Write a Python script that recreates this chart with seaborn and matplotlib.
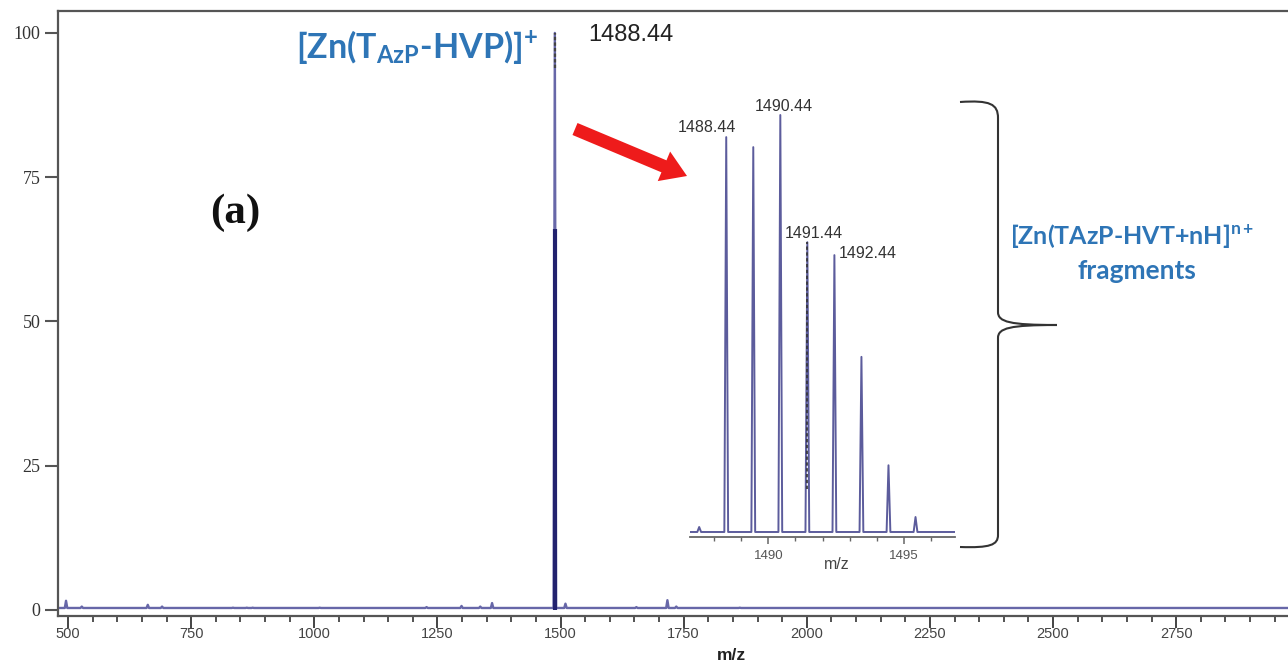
import numpy as np
import pandas as pd
import matplotlib
matplotlib.use("Agg")
import matplotlib.pyplot as plt
import seaborn as sns
from matplotlib.path import Path
from matplotlib.patches import PathPatch, FancyArrow
from matplotlib.transforms import IdentityTransform
from matplotlib.ticker import MultipleLocator, FixedLocator

# ---- full-scan spectrum: centroid m/z and relative intensity (%) ----
scan_mz = [496, 528, 662, 691, 835, 863, 875, 1011, 1228, 1299, 1337, 1361,
           1488.44, 1510, 1654, 1717, 1735, 1864, 1945]
scan_int = [1.6, 0.6, 0.9, 0.6, 0.4, 0.4, 0.4, 0.4, 0.5, 0.7, 0.6, 1.2,
            100.0, 1.1, 0.5, 1.7, 0.6, 0.4, 0.3]
scan_baseline = 0.35

# ---- isotope cluster of the molecular ion (zoomed view) ----
iso_mz = [1487.44, 1488.44, 1489.44, 1490.44, 1491.44, 1492.44, 1493.44, 1494.44, 1495.44]
iso_int = [1.2, 94.7, 92.3, 100.0, 69.5, 66.4, 42.0, 16.0, 3.6]
iso_labels = ["1488.44", "1490.44", "1491.44", "1492.44"]

x_ticks = [500, 750, 1000, 1250, 1500, 1750, 2000, 2250, 2500, 2750]
y_ticks = [0, 25, 50, 75, 100]
inset_ticks = [1490, 1495]

BLUE = "#2e75b6"
TRACE = "#6767a8"
NAVY = "#22226e"

sns.set_style("white")
plt.rcParams["font.family"] = ["Liberation Sans", "DejaVu Sans"]
plt.rcParams["mathtext.fontset"] = "custom"
plt.rcParams["mathtext.bf"] = "Lato:bold"
plt.rcParams["mathtext.rm"] = "Lato:bold"
plt.rcParams["mathtext.it"] = "Lato:bold"
plt.rcParams["mathtext.default"] = "bf"

W, H = 1288, 670


def stick_profile(mz, inten, half_width, base, lo, hi):
    """Turn centroid sticks into a continuous trace with narrow peaks."""
    xs, ys = [lo], [base]
    for m, h in sorted(zip(mz, inten)):
        xs += [m - half_width, m, m + half_width]
        ys += [base, max(h, base), base]
    xs.append(hi)
    ys.append(base)
    return pd.DataFrame({"mz": xs, "intensity": ys})


fig = plt.figure(figsize=(W / 100, H / 100), dpi=100)
fig.patch.set_facecolor("white")

# ---------------- main spectrum ----------------
ax = fig.add_axes([58 / W, 1 - 616 / H, 1 - 58 / W, (616 - 11) / H])
xlo, xhi = 479.7, 2977.0
scan = stick_profile(scan_mz, scan_int, 2.5, scan_baseline, xlo, xhi)
sns.lineplot(data=scan, x="mz", y="intensity", sort=False, estimator=None,
             color=TRACE, lw=1.7, ax=ax)

# base peak: heavy lower stem and dotted tip
i_max = int(np.argmax(scan_int))
pk_mz, pk_h = scan_mz[i_max], scan_int[i_max]
ax.vlines(pk_mz, 0, pk_h * 0.66, color=NAVY, lw=3.0)
ax.vlines(pk_mz, pk_h * 0.94, pk_h, color="#444444", lw=1.6, linestyles=(0, (1.5, 1)))

ax.set_xlim(xlo, xhi)
ax.set_ylim(-1.04, 103.8)
ax.xaxis.set_major_locator(FixedLocator(x_ticks))
ax.xaxis.set_minor_locator(MultipleLocator(50))
ax.yaxis.set_major_locator(FixedLocator(y_ticks))
ax.set_xticklabels([str(v) for v in x_ticks], fontsize=10.5, color="#444444",
                   family="Liberation Sans")
ax.set_yticklabels([str(v) for v in y_ticks], fontsize=13, color="#333333",
                   family="Liberation Serif")
ax.tick_params(axis="y", which="major", length=9.5, width=1.5, color="#555555",
               pad=3, left=True, direction="out")
ax.tick_params(axis="x", which="major", length=8.6, width=1.4, color="#444444",
               pad=-0.7, bottom=True, direction="out")
ax.tick_params(axis="x", which="minor", length=4.5, width=1.3, color="#444444",
               bottom=True, direction="out")
for side in ("left", "bottom", "top"):
    ax.spines[side].set_color("#555555")
    ax.spines[side].set_linewidth(1.6)
ax.spines["right"].set_visible(False)
ax.set_ylabel("")
ax.set_xlabel("m/z", fontsize=12.5, fontweight="bold", color="#222222")
ax.xaxis.set_label_coords((731 - 58) / (W - 58), (616 - 648) / 605)

ax.annotate(r"[Zn(T$_{AzP}$-HVP)]$^{+}$", xy=(pk_mz, pk_h), xycoords="data",
            xytext=(-17, -14), textcoords="offset pixels", ha="right", va="center",
            fontsize=24.5, fontweight="bold", family="Lato", color=BLUE)
ax.annotate(f"{pk_mz:.2f}", xy=(pk_mz, pk_h), xycoords="data",
            xytext=(33, -2), textcoords="offset pixels", ha="left", va="center",
            fontsize=17, color="#222222", family="Liberation Sans")

# ---------------- zoomed isotope cluster ----------------
axin = fig.add_axes([690 / W, 1 - 537 / H, 265 / W, (537 - 95) / H])
axin.patch.set_alpha(0)
ilo, ihi = 1487.1, 1496.9
iso = stick_profile(iso_mz, iso_int, 0.07, 0.0, ilo, ihi)
sns.lineplot(data=iso, x="mz", y="intensity", sort=False, estimator=None,
             color="#5c5c9c", lw=1.4, ax=axin)
j = iso_mz.index(1491.44)
axin.vlines(iso_mz[j], iso_int[j] * 0.15, iso_int[j], color="#333333", lw=1.2,
            linestyles=(0, (2, 1.5)))
axin.set_xlim(ilo, ihi)
axin.set_ylim(-1.2, 104.8)
axin.set_yticks([])
axin.xaxis.set_major_locator(FixedLocator(inset_ticks))
axin.xaxis.set_minor_locator(MultipleLocator(1))
axin.set_xticklabels([str(v) for v in inset_ticks], fontsize=9.5, color="#555555")
axin.tick_params(axis="x", which="major", length=5, width=1.1, color="#666666",
                 pad=4.5, bottom=True, direction="out")
axin.tick_params(axis="x", which="minor", length=3, width=1.0, color="#666666",
                 bottom=True, direction="out")
for side in ("left", "right", "top"):
    axin.spines[side].set_visible(False)
axin.spines["bottom"].set_color("#666666")
axin.spines["bottom"].set_linewidth(1.3)
axin.set_ylabel("")
axin.set_xlabel("m/z", fontsize=11.5, color="#444444")
axin.xaxis.set_label_coords((837 - 690) / 265, -(557 - 537) / 442)

label_offsets = {"1488.44": (-19, 10, "center"), "1490.44": (3, 9, "center"),
                 "1491.44": (6, 9, "center"), "1492.44": (4, 2, "left")}
for lab in iso_labels:
    k = iso_mz.index(float(lab))
    dx, dy, ha = label_offsets[lab]
    axin.annotate(lab, xy=(iso_mz[k], iso_int[k]), xycoords="data",
                  xytext=(dx, dy), textcoords="offset pixels", ha=ha, va="center",
                  fontsize=11.5, color="#333333")

# ---------------- annotations on the figure ----------------
def px(x, y):
    return (x, H - y)

arrow_tail, arrow_tip = px(575, 129), px(687, 176)
fig.add_artist(FancyArrow(arrow_tail[0], arrow_tail[1],
                          arrow_tip[0] - arrow_tail[0], arrow_tip[1] - arrow_tail[1],
                          width=13, head_width=32, head_length=25,
                          length_includes_head=True, color="#ee1b1b", lw=0,
                          transform=IdentityTransform()))

brace_pts = [px(960, 102), px(990, 100), px(998, 104), px(998, 118),
             px(998, 312),
             px(998, 322), px(1010, 325), px(1057, 325),
             px(1010, 325), px(998, 328), px(998, 338),
             px(998, 535),
             px(998, 545), px(990, 548), px(960, 547)]
brace_codes = [Path.MOVETO, Path.CURVE4, Path.CURVE4, Path.CURVE4,
               Path.LINETO,
               Path.CURVE4, Path.CURVE4, Path.CURVE4,
               Path.CURVE4, Path.CURVE4, Path.CURVE4,
               Path.LINETO,
               Path.CURVE4, Path.CURVE4, Path.CURVE4]
fig.add_artist(PathPatch(Path(brace_pts, brace_codes), fill=False,
                         edgecolor="#333333", lw=1.5, transform=IdentityTransform()))

fig.text(235 / W, 1 - 213 / H, "(a)", family="Liberation Serif", fontweight="bold",
         fontsize=31, ha="center", va="center", color="#111111")
fig.text(1132 / W, 1 - 236 / H, r"[Zn(TAzP-HVT+nH]$^{n+}$", family="Lato",
         fontweight="bold", fontsize=18, ha="center", va="center", color=BLUE)
fig.text(1137 / W, 1 - 271 / H, "fragments", family="Lato", fontweight="bold",
         fontsize=19, ha="center", va="center", color=BLUE)

fig.savefig("out.png", dpi=100, facecolor="white")
